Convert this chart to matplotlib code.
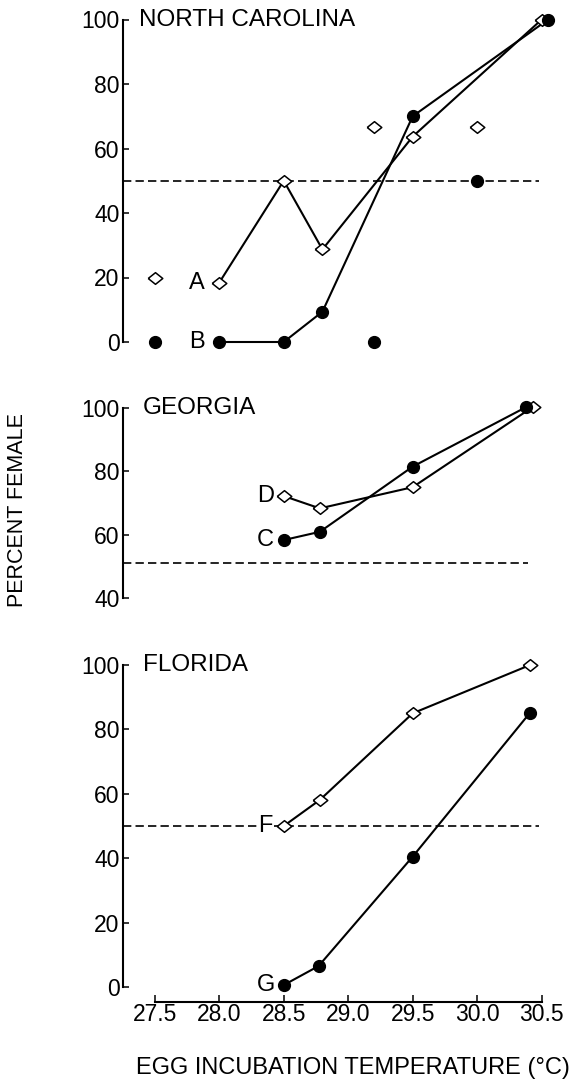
import matplotlib
matplotlib.use("Agg")
from matplotlib import pyplot as plt

plt.rcParams['font.family'] = ['Liberation Sans', 'DejaVu Sans']

# North Carolina
nc_a_x = [28.0, 28.5, 28.8, 29.5, 30.5]
nc_a_y = [18.4, 50, 28.7, 63.7, 100]
nc_b_x = [28.0, 28.5, 28.8, 29.5, 30.55]
nc_b_y = [0, 0, 9.4, 70, 100]
nc_open_x = [27.5, 29.2, 30.0]
nc_open_y = [20, 66.7, 66.7]
nc_solid_x = [27.5, 29.2, 30.0]
nc_solid_y = [0, 0, 50]

# Georgia
ga_c_x = [28.5, 28.78, 29.5, 30.38]
ga_c_y = [58.3, 60.9, 81.5, 100.3]
ga_d_x = [28.5, 28.78, 29.5, 30.43]
ga_d_y = [72.2, 68.3, 75.0, 100.3]

# Florida
fl_f_x = [28.5, 28.78, 29.5, 30.41]
fl_f_y = [50, 58.1, 85.0, 100]
fl_g_x = [28.5, 28.77, 29.5, 30.41]
fl_g_y = [0.6, 6.5, 40.5, 85.2]

# reference (50 %) lines: level, right end
nc_ref = (50, 30.48)
ga_ref = (51.1, 30.39)
fl_ref = (50, 30.48)

x_ticks = [27.5, 28.0, 28.5, 29.0, 29.5, 30.0, 30.5]
x_labels = ["27.5", "28.0", "28.5", "29.0", "29.5", "30.0", "30.5"]

XMIN, XMAX = 27.25, 30.7
diamond = [(-1, 0), (0, 0.8), (1, 0), (0, -0.8), (-1, 0)]
fs = 16.5

fig = plt.figure(figsize=(5.79, 10.8), dpi=100)
left, width = 122.5 / 579, 445 / 579


def make_ax(top_px, bottom_px, ylo, yhi, yticks):
    ax = fig.add_axes([left, 1 - bottom_px / 1080, width,
                       (bottom_px - top_px) / 1080])
    ax.set_xlim(XMIN, XMAX)
    ax.set_ylim(ylo, yhi)
    for s in ["top", "right", "bottom"]:
        ax.spines[s].set_visible(False)
    ax.spines["left"].set_linewidth(1.5)
    ax.set_yticks(yticks)
    ax.set_yticklabels([str(t) for t in yticks], fontsize=fs)
    ax.tick_params(axis="y", direction="in", length=4, width=1.1, pad=2)
    ax.set_xticks([])
    ax.patch.set_visible(False)
    return ax


def open_line(ax, x, y, line=True):
    if line:
        ax.plot(x, y, color="black", lw=1.5, zorder=2, clip_on=False)
    ax.plot(x, y, ls="none", marker=diamond, ms=10.5, mfc="white", mec="black",
            mew=1.1, zorder=3, clip_on=False)


def solid_line(ax, x, y, line=True):
    if line:
        ax.plot(x, y, color="black", lw=1.5, zorder=2, clip_on=False)
    ax.plot(x, y, ls="none", marker="o", ms=8.5, color="black",
            zorder=4, clip_on=False)


def ref_line(ax, ref):
    ax.plot([XMIN, ref[1]], [ref[0], ref[0]], color="black", lw=1.2,
            ls=(0, (5, 2.5)), zorder=1, clip_on=False)


def label(ax, x, y, s, **kw):
    ax.text(x, y, s, fontsize=17, ha="center", va="center", zorder=5, **kw)


# North Carolina panel
ax1 = make_ax(19.5, 342, 0, 100, [0, 20, 40, 60, 80, 100])
ref_line(ax1, nc_ref)
open_line(ax1, nc_a_x, nc_a_y)
solid_line(ax1, nc_b_x, nc_b_y)
open_line(ax1, nc_open_x, nc_open_y, line=False)
solid_line(ax1, nc_solid_x, nc_solid_y, line=False)
label(ax1, nc_a_x[0] - 0.17, nc_a_y[0], "A")
label(ax1, nc_b_x[0] - 0.17, nc_b_y[0], "B")
ax1.text(27.38, 100, "NORTH CAROLINA", fontsize=17.5, ha="left", va="center")

# Georgia panel
ax2 = make_ax(408, 598, 40, 100, [40, 60, 80, 100])
ref_line(ax2, ga_ref)
open_line(ax2, ga_d_x, ga_d_y)
solid_line(ax2, ga_c_x, ga_c_y)
label(ax2, ga_c_x[0] - 0.14, ga_c_y[0], "C")
label(ax2, ga_d_x[0] - 0.14, ga_d_y[0], "D")
ax2.text(27.41, 100, "GEORGIA", fontsize=17.5, ha="left", va="center")

# Florida panel
ax3 = make_ax(665, 987, 0, 100, [0, 20, 40, 60, 80, 100])
ref_line(ax3, fl_ref)
open_line(ax3, fl_f_x, fl_f_y)
solid_line(ax3, fl_g_x, fl_g_y)
label(ax3, fl_f_x[0] - 0.14, fl_f_y[0], "F",
      bbox=dict(facecolor="white", edgecolor="none", pad=1))
label(ax3, fl_g_x[0] - 0.14, fl_g_y[0], "G")
ax3.text(27.41, 100, "FLORIDA", fontsize=17.5, ha="left", va="center")
ax3.spines["bottom"].set_visible(True)
ax3.spines["bottom"].set_linewidth(1.5)
ax3.spines["bottom"].set_position(("outward", 10.8))
ax3.spines["bottom"].set_bounds(27.5, 30.5)
ax3.set_xticks(x_ticks)
ax3.set_xticklabels(x_labels, fontsize=fs)
ax3.tick_params(axis="x", direction="in", length=5, width=1.1, pad=1)

fig.text(18 / 579, 1 - 510 / 1080, "PERCENT FEMALE", rotation=90,
         fontsize=15.5, ha="center", va="center")
fig.text(353 / 579, 1 - 1074 / 1080, "EGG INCUBATION TEMPERATURE (°C)",
         fontsize=17, ha="center", va="baseline")

fig.savefig("out.png", dpi=100)
